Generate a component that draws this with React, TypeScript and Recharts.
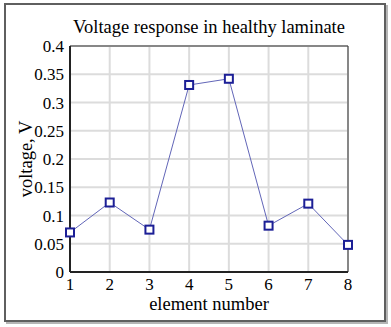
import { LineChart, Line, XAxis, YAxis, CartesianGrid, ReferenceArea, Label } from "recharts"

const elements = [1, 2, 3, 4, 5, 6, 7, 8]
const voltage = [0.07, 0.123, 0.075, 0.331, 0.342, 0.082, 0.121, 0.048]
const yTicks = [0, 0.05, 0.1, 0.15, 0.2, 0.25, 0.3, 0.35, 0.4]

const data = elements.map((e, i) => ({ element: e, voltage: voltage[i] }))

const font = '"Liberation Serif", "Times New Roman", serif'

function SquareDot(props: any) {
  const { cx, cy } = props
  if (cx == null || cy == null) return null
  return <rect x={cx - 4} y={cy - 4} width={8} height={8} fill="#fff" stroke="#1c1f96" strokeWidth={2} />
}

export default function App() {
  return (
    <div style={{ position: "absolute", left: 0, top: 0, width: 391, height: 327, background: "#fff", fontFamily: font }}>
      <div
        style={{
          position: "absolute",
          left: 4,
          top: 3,
          width: 378,
          height: 315,
          border: "2px solid #5f5f5f",
          boxShadow: "2px 2px 0 #b5b5b5",
        }}
      />
      <div style={{ position: "absolute", left: 70, top: 17, width: 278, textAlign: "center", fontSize: 18.5, color: "#000", whiteSpace: "nowrap" }}>
        Voltage response in healthy laminate
      </div>
      <div style={{ position: "absolute", left: 0, top: 0 }}>
        <LineChart width={391} height={327} data={data} margin={{ top: 46, right: 43, left: 0, bottom: 0 }}>
          <CartesianGrid stroke="#dcdcdc" strokeWidth={2} />
          <XAxis
            dataKey="element"
            type="number"
            domain={[1, 8]}
            ticks={elements}
            height={55}
            tickLine={false}
            axisLine={{ stroke: "#222", strokeWidth: 2 }}
            tickMargin={0}
            tick={{ fill: "#000", fontSize: 17, fontFamily: font }}
          >
            <Label value="element number" position="insideBottom" offset={17} style={{ fill: "#000", fontSize: 18.5, fontFamily: font }} />
          </XAxis>
          <YAxis
            type="number"
            domain={[0, 0.4]}
            ticks={yTicks}
            width={70}
            tickLine={false}
            axisLine={{ stroke: "#222", strokeWidth: 2 }}
            tickMargin={0}
            tick={{ fill: "#000", fontSize: 17, fontFamily: font }}
          >
            <Label value="voltage, V" angle={-90} position="insideLeft" offset={25} style={{ fill: "#000", fontSize: 18.5, fontFamily: font, textAnchor: "middle" }} />
          </YAxis>
          <ReferenceArea x1={1} x2={8} y1={0} y2={0.4} fill="none" stroke="#333" strokeWidth={1} />
          <Line
            dataKey="voltage"
            stroke="#6266b8"
            strokeWidth={1}
            dot={<SquareDot />}
            activeDot={false}
            isAnimationActive={false}
          />
        </LineChart>
      </div>
    </div>
  )
}
